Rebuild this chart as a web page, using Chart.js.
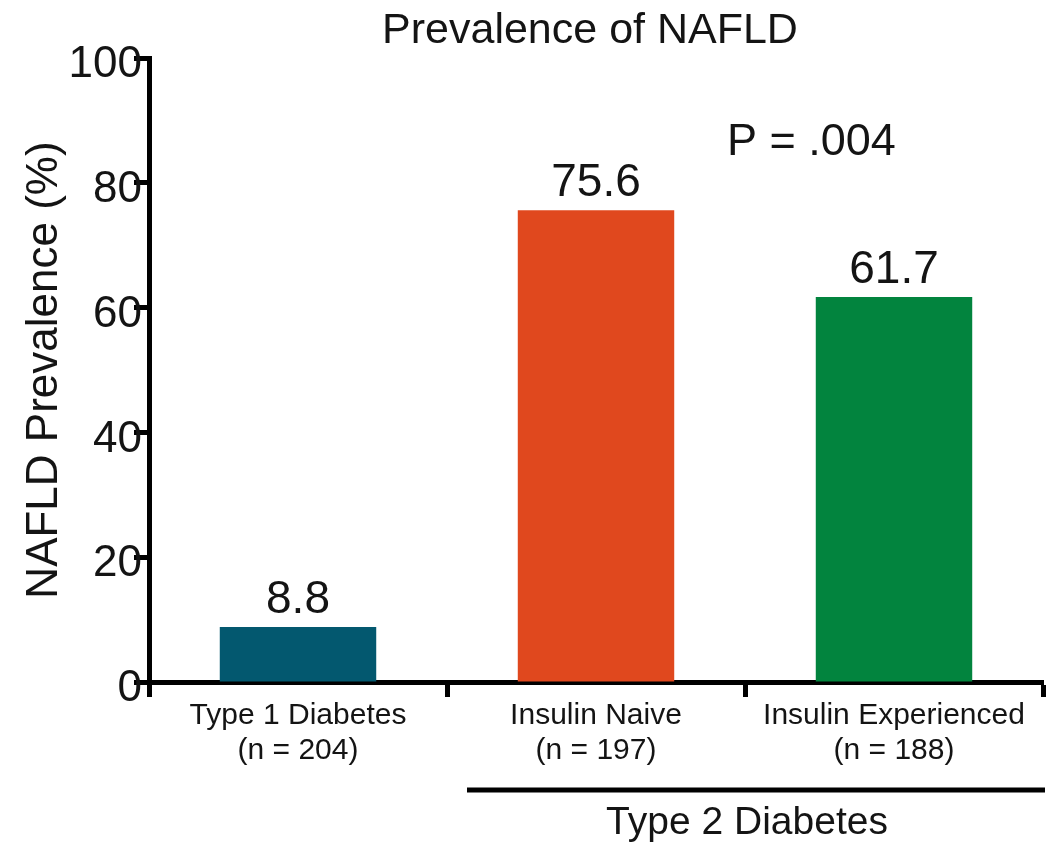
<!DOCTYPE html>
<html>
<head>
<meta charset="utf-8">
<script src="https://cdn.jsdelivr.net/npm/chart.js@4"></script>
<style>
  html, body { margin: 0; padding: 0; background: #fff; }
  #wrap { width: 1046px; height: 845px; }
</style>
</head>
<body>
<div id="wrap"><canvas id="chart" width="1046" height="845"></canvas></div>
<script>
// ===== Data =====
const groupLabels = [
    ['Type 1 Diabetes', '(n = 204)'],
    ['Insulin Naive', '(n = 197)'],
    ['Insulin Experienced', '(n = 188)']
];
const prevalence = [8.8, 75.6, 61.7];
const barColors = ['#03586f', '#e0481e', '#02843e'];
const yTicks = [0, 20, 40, 60, 80, 100];

const chartTitle = 'Prevalence of NAFLD';
const yTitle = 'NAFLD Prevalence (%)';
const pText = 'P = .004';
const bracketText = 'Type 2 Diabetes';

const FONT = '"Liberation Sans", Arial, sans-serif';
const INK = '#141414';

// ===== Extra drawing: title, value labels, P value, T2D bracket =====
const extrasPlugin = {
    id: 'extras',
    afterDatasetsDraw(chart) {
        const { ctx, chartArea } = chart;
        const xs = chart.scales.x;
        const meta = chart.getDatasetMeta(0);
        ctx.save();
        ctx.fillStyle = INK;
        ctx.textAlign = 'center';
        ctx.textBaseline = 'alphabetic';

        // value labels over bars
        ctx.font = '46px ' + FONT;
        meta.data.forEach((bar, i) => {
            ctx.fillText(prevalence[i].toFixed(1), bar.x, bar.y - 14);
        });

        // title
        ctx.font = '43px ' + FONT;
        ctx.fillText(chartTitle, (chartArea.left + chartArea.right) / 2 - 6, 43);

        // P value
        ctx.font = '45px ' + FONT;
        ctx.textAlign = 'left';
        ctx.fillText(pText, 727, 155);

        // Type 2 bracket under the x labels
        const b12 = (xs.getPixelForValue(0) + xs.getPixelForValue(1)) / 2;
        const b23 = (xs.getPixelForValue(1) + xs.getPixelForValue(2)) / 2;
        ctx.strokeStyle = '#000';
        ctx.lineWidth = 5;
        ctx.beginPath();
        ctx.moveTo(b12 + 20, 790);
        ctx.lineTo(chartArea.right + 2, 790);
        ctx.stroke();

        ctx.textAlign = 'center';
        ctx.font = '39px ' + FONT;
        ctx.fillText(bracketText, b23 + 2, 834);
        ctx.restore();
    }
};

const ctx = document.getElementById('chart').getContext('2d');
new Chart(ctx, {
    type: 'bar',
    data: {
        labels: groupLabels,
        datasets: [{
            data: prevalence,
            backgroundColor: barColors,
            borderWidth: 0,
            categoryPercentage: 1,
            barPercentage: 0.525
        }]
    },
    options: {
        responsive: false,
        animation: false,
        devicePixelRatio: 1,
        layout: { padding: { left: 0, right: 3, top: 58, bottom: 0 } },
        plugins: {
            legend: { display: false },
            tooltip: { enabled: false },
            title: { display: false }
        },
        scales: {
            x: {
                afterFit: (s) => { s.height = 163; },
                border: { display: true, color: '#000', width: 5 },
                grid: {
                    drawOnChartArea: false, drawTicks: true,
                    tickLength: 15, tickWidth: 5, tickColor: '#000'
                },
                ticks: {
                    color: INK,
                    padding: 1,
                    maxRotation: 0,
                    font: { family: FONT, size: 30, lineHeight: 1.17 }
                }
            },
            y: {
                min: 0,
                max: 100,
                afterFit: (s) => { s.width = 149; },
                afterBuildTicks: (s) => { s.ticks = yTicks.map(v => ({ value: v })); },
                border: { display: true, color: '#000', width: 5 },
                grid: {
                    drawOnChartArea: false, drawTicks: true,
                    tickLength: 15, tickWidth: 5, tickColor: '#000'
                },
                ticks: {
                    color: INK,
                    padding: -8,
                    labelOffset: 7,
                    font: { family: FONT, size: 44 }
                },
                title: {
                    display: true,
                    text: yTitle,
                    color: INK,
                    padding: { top: 18, bottom: 0 },
                    font: { family: FONT, size: 44 }
                }
            }
        }
    },
    plugins: [extrasPlugin]
});
</script>
</body>
</html>
